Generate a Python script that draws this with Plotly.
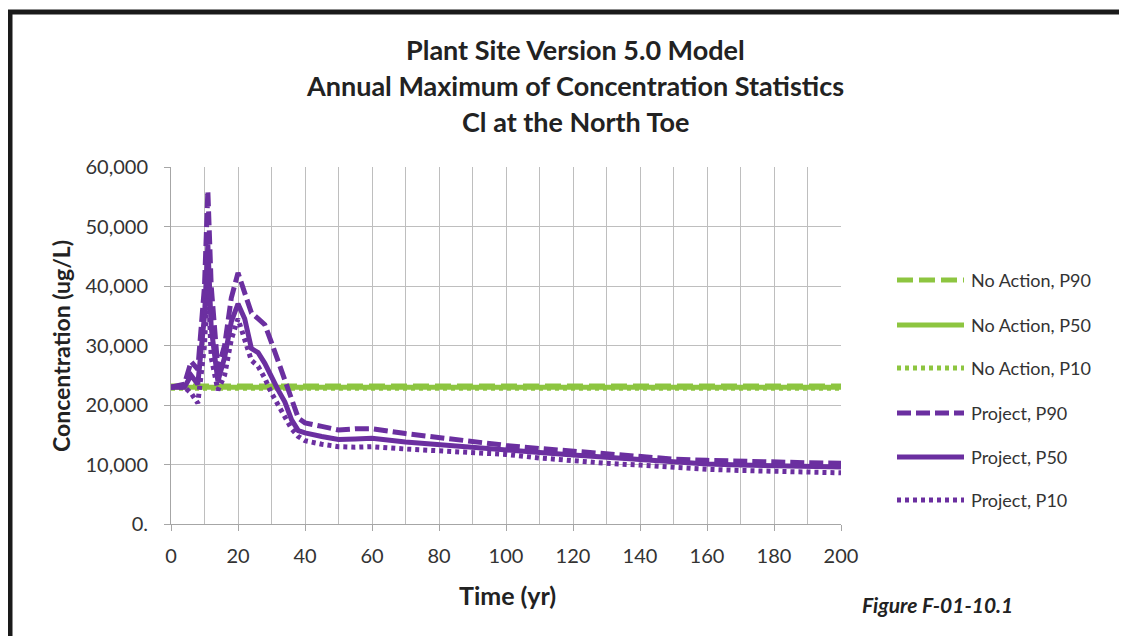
import plotly.graph_objects as go

# ---------------- data ----------------
years = [0, 4, 6, 8, 10, 11, 12, 14, 16, 18, 20, 22, 24, 26, 28, 30, 32, 34, 36, 38, 40,
         45, 50, 55, 60, 70, 80, 90, 100, 110, 120, 130, 140, 150, 160, 170, 180, 190, 200]

project_p90 = [23000, 23500, 27300, 26000, 40000, 56000, 40000, 26000, 30000, 38000, 42200,
               39000, 35500, 34500, 33500, 30500, 27500, 24500, 21000, 17800, 17000,
               16400, 15800, 16000, 16000, 15200, 14500, 13800, 13200, 12700, 12200,
               11700, 11200, 10900, 10700, 10500, 10400, 10300, 10200]
project_p50 = [23000, 23000, 25000, 23500, 35000, 47000, 33000, 24000, 28000, 34000, 37000,
               34500, 29500, 28800, 27000, 24500, 22500, 20500, 17500, 15700, 15300,
               14700, 14200, 14300, 14400, 13800, 13300, 12900, 12500, 12000, 11600,
               11200, 10800, 10300, 10100, 9900, 9800, 9700, 9600]
project_p10 = [23000, 23000, 22000, 20300, 30000, 42000, 28000, 22500, 25000, 31000, 34500,
               31000, 27500, 26500, 24500, 22000, 20000, 18000, 16000, 14700, 14000,
               13400, 13000, 12900, 13000, 12600, 12300, 12100, 11700, 11100, 10600,
               10200, 9900, 9500, 9200, 9000, 8800, 8700, 8600]

na_years = [0, 20, 40, 60, 80, 100, 120, 140, 160, 180, 200]
noaction_p90 = [23200, 23200, 23200, 23200, 23200, 23200, 23200, 23200, 23200, 23200, 23200]
noaction_p50 = [23000, 23000, 23000, 23000, 23000, 23000, 23000, 23000, 23000, 23000, 23000]
noaction_p10 = [22800, 22800, 22800, 22800, 22800, 22800, 22800, 22800, 22800, 22800, 22800]

y_ticks = [0, 10000, 20000, 30000, 40000, 50000, 60000]
y_ticktext = ["0.", "10,000", "20,000", "30,000", "40,000", "50,000", "60,000"]
x_ticks = [0, 20, 40, 60, 80, 100, 120, 140, 160, 180, 200]

title_lines = ["Plant Site Version 5.0 Model",
               "Annual Maximum of Concentration Statistics",
               "Cl at the North Toe"]

# ---------------- styling ----------------
GREEN = "#8DC540"
PURPLE = "#6B2FA0"
TEXT = "#333333"
DARK = "#222222"
FONT = "Lato"
OFF = 8                      # page body margin
W, H = 1127 - OFF, 636 - OFF
L, R, T, B = 171 - OFF, 841 - OFF, 167 - OFF, 524 - OFF

DASH_G = "16px,6px"
DASH_P = "14px,5px"
DOT = "4px,4px"

series = [
    ("No Action, P90", na_years, noaction_p90, GREEN, DASH_G),
    ("No Action, P50", na_years, noaction_p50, GREEN, "solid"),
    ("No Action, P10", na_years, noaction_p10, GREEN, DOT),
    ("Project, P90", years, project_p90, PURPLE, DASH_P),
    ("Project, P50", years, project_p50, PURPLE, "solid"),
    ("Project, P10", years, project_p10, PURPLE, DOT),
]


def px(x):
    # page pixel x -> paper coordinate
    return (x - OFF - L) / (R - L)


def py(y):
    # page pixel y -> paper coordinate
    return (B - (y - OFF)) / (B - T)


fig = go.Figure()
for name, xs, ys, color, dash in series:
    fig.add_trace(go.Scatter(x=xs, y=ys, mode="lines", name=name,
                             line=dict(color=color, width=5, dash=dash),
                             showlegend=False))

shapes = []
annotations = []

# title
for line, yy in zip(title_lines, [49, 86, 121]):
    annotations.append(dict(text="<b>%s</b>" % line, x=px(575), y=py(yy), xref="paper", yref="paper",
                            xanchor="center", yanchor="middle", showarrow=False,
                            font=dict(family=FONT, size=27, color=DARK)))

# axis titles
annotations.append(dict(text="<b>Concentration (ug/L)</b>", x=px(61), y=py(346), xref="paper", yref="paper",
                        textangle=-90, xanchor="center", yanchor="middle", showarrow=False,
                        font=dict(family=FONT, size=23, color=DARK)))
annotations.append(dict(text="<b>Time (yr)</b>", x=px(507), y=py(595), xref="paper", yref="paper",
                        xanchor="center", yanchor="middle", showarrow=False,
                        font=dict(family=FONT, size=25, color=DARK)))
annotations.append(dict(text="<b><i>Figure F-01-10.1</i></b>", x=px(860), y=py(604), xref="paper", yref="paper",
                        xanchor="left", yanchor="middle", showarrow=False,
                        font=dict(family=FONT, size=21, color=DARK)))

# legend (manual)
leg_y = [280, 325, 368, 413, 457, 500]
for (name, xs, ys, color, dash), yy in zip(series, leg_y):
    shapes.append(dict(type="line", xref="paper", yref="paper", x0=px(897), x1=px(964),
                       y0=py(yy), y1=py(yy), line=dict(color=color, width=5, dash=dash)))
    annotations.append(dict(text=name, x=px(969), y=py(yy), xref="paper", yref="paper",
                            xanchor="left", yanchor="middle", showarrow=False,
                            font=dict(family=FONT, size=18, color=TEXT)))

# frame
shapes.append(dict(type="line", xref="paper", yref="paper", x0=px(8), x1=px(1140),
                   y0=py(12), y1=py(12), line=dict(color="#1a1a1a", width=5)))
shapes.append(dict(type="line", xref="paper", yref="paper", x0=px(10), x1=px(10),
                   y0=py(10), y1=py(650), line=dict(color="#1a1a1a", width=5)))

fig.update_layout(
    width=W, height=H,
    margin=dict(l=L, r=W - R, t=T, b=H - B),
    paper_bgcolor="white", plot_bgcolor="white",
    shapes=shapes, annotations=annotations,
    showlegend=False,
    font=dict(family=FONT, color=TEXT),
)
fig.update_xaxes(range=[0, 200], tickvals=x_ticks, showgrid=True, gridcolor="#BEBEBE", gridwidth=1,
                 minor=dict(dtick=10, tick0=0, showgrid=True, gridcolor="#BEBEBE", gridwidth=1, ticks=""),
                 showline=True, linecolor="#A6A6A6", linewidth=1, ticks="outside", ticklen=6,
                 tickcolor="#A6A6A6", tickfont=dict(family=FONT, size=20, color=TEXT),
                 ticklabelstandoff=8, zeroline=False)
fig.update_yaxes(range=[0, 60000], tickvals=y_ticks, ticktext=y_ticktext, showgrid=True,
                 gridcolor="#BEBEBE", gridwidth=1, showline=True, linecolor="#A6A6A6", linewidth=1,
                 ticks="outside", ticklen=6, tickcolor="#A6A6A6",
                 tickfont=dict(family=FONT, size=20, color=TEXT), ticklabelstandoff=12, zeroline=False)

fig.write_html("out.html")
